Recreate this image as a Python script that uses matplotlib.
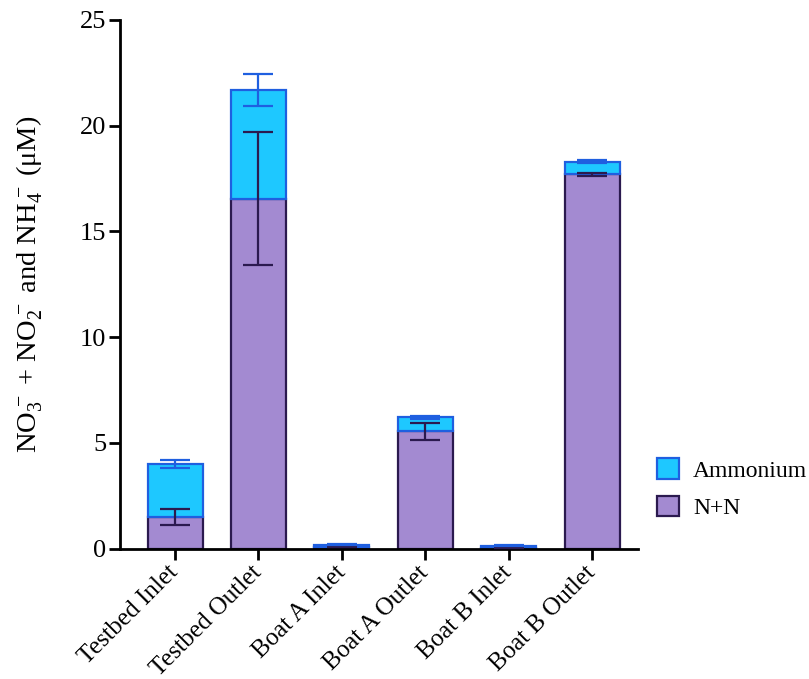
import matplotlib
matplotlib.use("Agg")
import matplotlib.pyplot as plt
import numpy as np

plt.rcParams["font.family"] = ["Liberation Serif", "DejaVu Serif"]
plt.rcParams["mathtext.fontset"] = "custom"
plt.rcParams["mathtext.rm"] = "Liberation Serif"
plt.rcParams["mathtext.it"] = "Liberation Serif:italic"
plt.rcParams["mathtext.bf"] = "Liberation Serif:bold"

sites = ["Testbed Inlet", "Testbed Outlet", "Boat A Inlet",
         "Boat A Outlet", "Boat B Inlet", "Boat B Outlet"]
nn_mean = [1.5, 16.55, 0.08, 5.55, 0.02, 17.7]
nn_err = [0.38, 3.15, 0.02, 0.4, 0.01, 0.08]
amm_mean = [2.5, 5.15, 0.1, 0.65, 0.12, 0.6]
amm_err = [0.2, 0.75, 0.02, 0.07, 0.02, 0.08]

nn_fill, nn_edge = "#a38ad1", "#2b1a4f"
amm_fill, amm_edge = "#1ec8ff", "#1f5fe0"

fig = plt.figure(figsize=(8.09, 6.79), dpi=100)
ax = fig.add_axes([120 / 809, 1 - 548.5 / 679, 518 / 809, 528.5 / 679])

x = np.arange(len(sites))
width = 0.66
nn = np.array(nn_mean)
amm = np.array(amm_mean)

ax.bar(x, nn, width, color=nn_fill, edgecolor=nn_edge, linewidth=1.6,
       label="N+N", zorder=2)
ax.bar(x, amm, width, bottom=nn, color=amm_fill, edgecolor=amm_edge,
       linewidth=1.6, label="Ammonium", zorder=2)

ax.errorbar(x, nn, yerr=nn_err, fmt="none", ecolor=nn_edge, elinewidth=1.6,
            capsize=11, capthick=1.6, zorder=4)
ax.errorbar(x, nn + amm, yerr=amm_err, fmt="none", ecolor=amm_edge,
            elinewidth=1.6, capsize=11, capthick=1.6, zorder=4)

ax.set_xlim(-0.66, 5.55)
ax.set_ylim(0, 25)
ax.set_yticks([0, 5, 10, 15, 20, 25])
ax.set_xticks(x)
ax.set_xticklabels(sites, rotation=45, ha="right", va="center",
                   rotation_mode="anchor", fontsize=18)
ax.tick_params(axis="y", labelsize=19, width=2, length=8, direction="out",
               pad=2)
ax.tick_params(axis="x", width=2, length=8, direction="out", pad=7)

for side in ("top", "right"):
    ax.spines[side].set_visible(False)
for side in ("left", "bottom"):
    ax.spines[side].set_linewidth(2)

ax.set_ylabel(r"NO$_3^{\,-}$ + NO$_2^{\,-}$ and NH$_4^{\,-}$ ($\mathrm{\mu}$M)",
              fontsize=20.5, labelpad=25)

handles, labels = ax.get_legend_handles_labels()
ax.legend(handles[::-1], labels[::-1], loc="center left",
          bbox_to_anchor=(0.995, 0.113), frameon=False, fontsize=17,
          handlelength=0.95, handleheight=0.95, handletextpad=0.6,
          labelspacing=0.6)

fig.savefig("out.png", dpi=100)
